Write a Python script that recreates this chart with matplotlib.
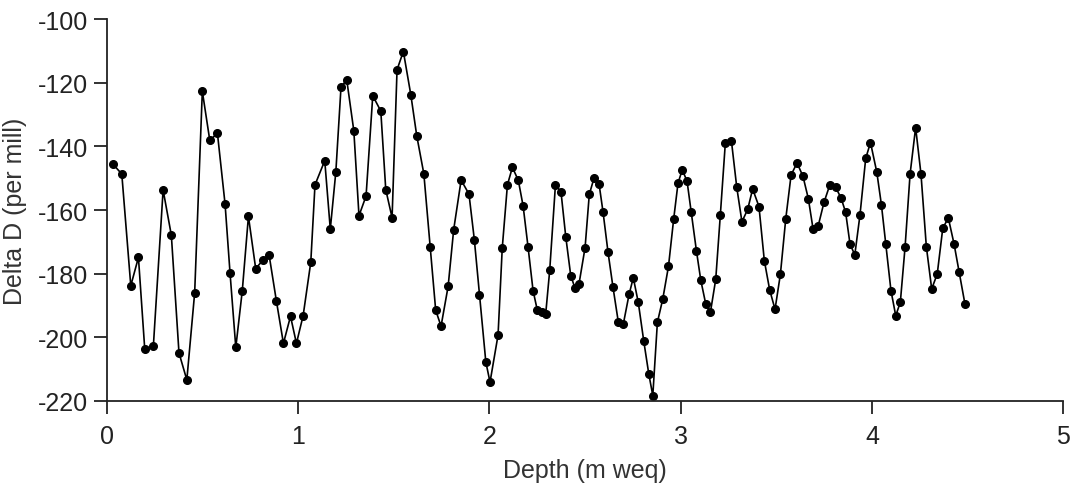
import matplotlib.pyplot as plt
import numpy as np

plt.rcParams['font.family'] = ['Liberation Sans', 'DejaVu Sans']
plt.rcParams['axes.unicode_minus'] = False

# depth (m weq) and delta D (per mill)
depth = [0.032, 0.078, 0.125, 0.165, 0.198, 0.243, 0.294, 0.337, 0.377, 0.418,
         0.459, 0.499, 0.538, 0.578, 0.618, 0.644, 0.674, 0.708, 0.740, 0.778,
         0.818, 0.848, 0.886, 0.923, 0.960, 0.991, 1.026, 1.066, 1.088, 1.139,
         1.168, 1.197, 1.224, 1.254, 1.291, 1.318, 1.355, 1.390, 1.432, 1.458,
         1.491, 1.517, 1.550, 1.589, 1.620, 1.657, 1.690, 1.719, 1.747, 1.784,
         1.813, 1.852, 1.893, 1.921, 1.948, 1.981, 2.003, 2.045, 2.067, 2.094,
         2.120, 2.151, 2.176, 2.202, 2.228, 2.250, 2.273, 2.294, 2.315, 2.345,
         2.374, 2.399, 2.425, 2.447, 2.468, 2.500, 2.522, 2.547, 2.573, 2.594,
         2.620, 2.646, 2.674, 2.700, 2.730, 2.752, 2.778, 2.807, 2.833, 2.854,
         2.878, 2.906, 2.936, 2.963, 2.986, 3.008, 3.033, 3.055, 3.082, 3.105,
         3.131, 3.155, 3.183, 3.207, 3.233, 3.265, 3.293, 3.320, 3.350, 3.376,
         3.409, 3.437, 3.465, 3.493, 3.521, 3.549, 3.577, 3.608, 3.639, 3.667,
         3.692, 3.719, 3.749, 3.779, 3.810, 3.838, 3.862, 3.885, 3.910, 3.937,
         3.967, 3.992, 4.025, 4.049, 4.072, 4.099, 4.124, 4.148, 4.173, 4.199,
         4.228, 4.256, 4.284, 4.312, 4.341, 4.370, 4.399, 4.429, 4.456, 4.486]

delta_d = [-145.6, -148.7, -183.8, -174.9, -203.7, -202.8, -153.7, -167.9, -204.9, -213.4,
           -186.0, -122.7, -138.1, -135.9, -158.2, -179.9, -203.2, -185.3, -162.0, -178.4,
           -175.6, -174.1, -188.5, -201.9, -193.4, -201.9, -193.2, -176.4, -152.1, -144.5,
           -166.0, -148.0, -121.4, -119.1, -135.1, -161.8, -155.6, -124.1, -128.9, -153.6,
           -162.4, -115.9, -110.2, -123.8, -136.7, -148.6, -171.6, -191.5, -196.5, -184.0,
           -166.2, -150.6, -155.0, -169.3, -186.7, -207.7, -214.1, -199.3, -171.9, -152.1,
           -146.6, -150.7, -158.7, -171.7, -185.3, -191.4, -192.0, -192.7, -179.0, -152.1,
           -154.3, -168.4, -180.6, -184.5, -183.3, -171.8, -155.1, -149.9, -151.8, -160.7,
           -173.3, -184.3, -195.3, -195.8, -186.5, -181.3, -189.0, -201.3, -211.5, -218.3,
           -195.3, -188.0, -177.7, -162.9, -151.5, -147.4, -150.9, -160.7, -172.8, -182.1,
           -189.6, -192.2, -181.8, -161.6, -139.1, -138.3, -152.9, -163.7, -159.8, -153.4,
           -158.9, -175.9, -185.1, -191.2, -180.2, -162.8, -149.0, -145.2, -149.4, -156.4,
           -166.0, -164.9, -157.6, -152.2, -152.9, -156.2, -160.7, -170.7, -174.1, -161.6,
           -143.8, -138.8, -148.1, -158.3, -170.7, -185.3, -193.2, -189.0, -171.5, -148.7,
           -134.1, -148.7, -171.5, -184.8, -180.1, -165.7, -162.5, -170.7, -179.6, -189.6]

fig = plt.figure(figsize=(10.85, 4.89), dpi=100)
ax = fig.add_axes([0.0985, 0.178, 0.8815, 0.781])

ax.plot(depth, delta_d, color='black', linewidth=1.2, marker='o', markersize=5.5)

ax.set_xlim(0, 5)
ax.set_ylim(-220, -100)
ax.set_xticks(np.arange(0, 6, 1))
ax.set_yticks(np.arange(-220, -99, 20))

ax.spines['top'].set_visible(False)
ax.spines['right'].set_visible(False)
for s in ['left', 'bottom']:
    ax.spines[s].set_linewidth(1.3)
    ax.spines[s].set_color('#222222')
ax.tick_params(direction='out', length=9.5, width=1.3, labelsize=18, color='#222222',
               labelcolor='#222222', pad=4)
ax.tick_params(axis='x', pad=7)

ax.set_xlabel('Depth (m weq)', fontsize=18, color='#333333', labelpad=7)
ax.set_ylabel('Delta D (per mill)', fontsize=18, color='#333333', labelpad=8)

fig.savefig('out.png', dpi=100)
